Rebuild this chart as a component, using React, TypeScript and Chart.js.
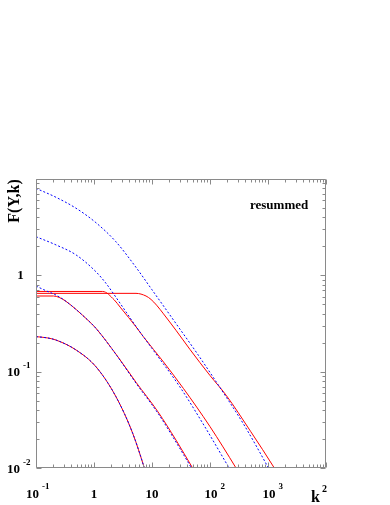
import React, { useEffect, useRef } from "react";
import { Chart, registerables } from "chart.js";

Chart.register(...registerables);

// Blue dashed curves
const b1X = [0.1, 0.221, 0.49, 1.08, 2.39, 5.3, 10, 25.9, 63.1, 148.6, 398, 1000, 1259];
const b1Y = [8.0, 6.46, 4.97, 3.52, 2.23, 1.21, 0.708, 0.316, 0.148, 0.0684, 0.0272, 0.0102, 0.0079];
const b2X = [0.1, 0.221, 0.49, 1.08, 1.61, 2.39, 5.3, 10, 30.4, 79.4, 214, 282];
const b2Y = [2.52, 2.07, 1.63, 1.09, 0.826, 0.592, 0.295, 0.174, 0.0692, 0.0275, 0.01, 0.0076];
const b3X = [0.1, 0.149, 0.221, 0.329, 0.778, 1.08, 2.51, 5.3, 12.6, 25.9, 47.9, 60.3];
const b3Y = [0.774, 0.692, 0.624, 0.537, 0.344, 0.282, 0.145, 0.0759, 0.0372, 0.0186, 0.01, 0.0079];
const b4X = [0.1, 0.158, 0.221, 0.49, 1.08, 2.39, 4.65, 7.38, 8.3];
const b4Y = [0.231, 0.224, 0.213, 0.168, 0.1125, 0.055, 0.0229, 0.01, 0.0079];

// Red solid curves
const r1X = [0.1, 5.3, 7.89, 9.62, 12.0, 15.8, 25.9, 45.2, 100, 189, 501, 1285, 1585];
const r1Y = [0.65, 0.65, 0.61, 0.562, 0.49, 0.398, 0.269, 0.17, 0.0912, 0.0571, 0.024, 0.01, 0.0081];
const r2X = [0.1, 1.41, 2.24, 2.82, 3.98, 5.3, 7.08, 15.8, 34.7, 100, 281, 355];
const r2Y = [0.68, 0.68, 0.555, 0.468, 0.363, 0.292, 0.231, 0.126, 0.0671, 0.0269, 0.01, 0.0079];
const r3X = [0.1, 0.2, 0.251, 0.329, 0.778, 1.08, 2.51, 5.3, 12.6, 25.9, 50.1, 63.1];
const r3Y = [0.61, 0.61, 0.59, 0.537, 0.344, 0.282, 0.146, 0.0776, 0.0385, 0.0195, 0.01, 0.0079];
const r4X = b4X;
const r4Y = b4Y;

// Axes
const xMin = 0.1;
const xMax = 10000;
const yMin = 0.01;
const yMax = 10;
const xTickValues = [0.1, 1, 10, 100, 1000];
const xTickBase = ["10", "1", "10", "10", "10"];
const xTickExp = ["-1", "", "", "2", "3"];
const yTickValues = [0.01, 0.1, 1];
const yTickBase = ["10", "10", "1"];
const yTickExp = ["-2", "-1", ""];
const xTitle = "k";
const xTitleExp = "2";
const yTitle = "F(Y,k)";
const annotation = "resummed";

const SERIF = "'Liberation Serif', 'Times New Roman', serif";

function pts(xs: number[], ys: number[]) {
  return xs.map((x, i) => ({ x, y: ys[i] }));
}

function blue(xs: number[], ys: number[]) {
  return {
    data: pts(xs, ys),
    borderColor: "#0000ff",
    borderWidth: 1,
    borderDash: [2, 2],
    pointRadius: 0,
    fill: false,
    cubicInterpolationMode: "monotone" as const,
  };
}
function red(xs: number[], ys: number[]) {
  return {
    data: pts(xs, ys),
    borderColor: "#ff0000",
    borderWidth: 1,
    pointRadius: 0,
    fill: false,
    cubicInterpolationMode: "monotone" as const,
  };
}

const framePlugin = {
  id: "rootFrame",
  afterDraw(chart: any) {
    const ctx = chart.ctx as CanvasRenderingContext2D;
    const a = chart.chartArea;
    const xs = chart.scales.x;
    const ys = chart.scales.y;
    const L = Math.round(a.left) + 0.5;
    const R = Math.round(a.right) - 0.5;
    const T = Math.round(a.top) + 0.5;
    const B = Math.round(a.bottom) - 0.5;
    ctx.save();
    ctx.strokeStyle = "#8a8a8a";
    ctx.lineWidth = 1;
    ctx.beginPath();
    ctx.rect(L, T, R - L, B - T);
    ctx.stroke();

    const major = 5;
    const minor = 3;
    ctx.beginPath();
    for (let d = xMin; d < xMax * 1.0001; d *= 10) {
      for (let m = 1; m <= 9; m++) {
        const v = d * m;
        if (v < xMin * 0.9999 || v > xMax * 1.0001) continue;
        const px = Math.round(xs.getPixelForValue(v)) + 0.5;
        const len = m === 1 ? major : minor;
        ctx.moveTo(px, B);
        ctx.lineTo(px, B - len);
        ctx.moveTo(px, T);
        ctx.lineTo(px, T + len);
      }
    }
    for (let d = yMin; d < yMax * 1.0001; d *= 10) {
      for (let m = 1; m <= 9; m++) {
        const v = d * m;
        if (v < yMin * 0.9999 || v > yMax * 1.0001) continue;
        const py = Math.round(ys.getPixelForValue(v)) + 0.5;
        const len = m === 1 ? major : minor;
        ctx.moveTo(L, py);
        ctx.lineTo(L + len, py);
        ctx.moveTo(R, py);
        ctx.lineTo(R - len, py);
      }
    }
    ctx.stroke();

    ctx.fillStyle = "#000";
    ctx.textBaseline = "alphabetic";
    const mainFont = `bold 13px ${SERIF}`;
    const supFont = `bold 9px ${SERIF}`;

    xTickValues.forEach((v, i) => {
      const px = xs.getPixelForValue(v);
      const base = xTickBase[i];
      const exp = xTickExp[i];
      ctx.font = mainFont;
      const w = ctx.measureText(base).width;
      let cx = px;
      if (exp) cx = exp.startsWith("-") ? px - 3.5 : px + 1;
      const left = cx - w / 2;
      ctx.textAlign = "left";
      ctx.fillText(base, left, 498);
      if (exp) {
        ctx.font = supFont;
        ctx.fillText(exp, left + w + 3, 489);
      }
    });

    yTickValues.forEach((v, i) => {
      const py = ys.getPixelForValue(v);
      const base = yTickBase[i];
      const exp = yTickExp[i];
      ctx.font = mainFont;
      const w = ctx.measureText(base).width;
      ctx.textAlign = "left";
      if (exp) {
        ctx.fillText(base, 7, py + 4.5);
        ctx.font = supFont;
        ctx.fillText(exp, 7 + w + 3, py - 3.5);
      } else {
        ctx.fillText(base, 20.5 - w / 2, py + 3.5);
      }
    });

    ctx.save();
    ctx.translate(19, 201);
    ctx.rotate(-Math.PI / 2);
    ctx.font = `bold 16px ${SERIF}`;
    ctx.textAlign = "center";
    ctx.fillText(yTitle, 0, 0);
    ctx.restore();

    ctx.font = `bold 16px ${SERIF}`;
    ctx.textAlign = "left";
    ctx.fillText(xTitle, 311, 502);
    const kw = ctx.measureText(xTitle).width;
    ctx.font = `bold 10px ${SERIF}`;
    ctx.fillText(xTitleExp, 311 + kw + 2, 492);

    ctx.font = `bold 13px ${SERIF}`;
    ctx.textAlign = "left";
    ctx.fillText(annotation, 250, 209);
    ctx.restore();
  },
};

export default function App() {
  const ref = useRef<HTMLCanvasElement | null>(null);
  useEffect(() => {
    if (!ref.current) return;
    const chart = new Chart(ref.current, {
      type: "line",
      data: {
        datasets: [
          blue(b1X, b1Y),
          blue(b2X, b2Y),
          blue(b3X, b3Y),
          blue(b4X, b4Y),
          red(r1X, r1Y),
          red(r2X, r2Y),
          red(r3X, r3Y),
          red(r4X, r4Y),
        ] as any,
      },
      options: {
        animation: false,
        responsive: false,
        devicePixelRatio: 1,
        layout: { padding: { left: 36, top: 179, right: 64, bottom: 37 } },
        plugins: { legend: { display: false }, tooltip: { enabled: false } },
        scales: {
          x: { type: "logarithmic", min: xMin, max: xMax, display: false },
          y: { type: "logarithmic", min: yMin, max: yMax, display: false },
        },
      },
      plugins: [framePlugin],
    });
    return () => chart.destroy();
  }, []);
  return (
    <div style={{ position: "absolute", left: 0, top: 0, width: 390, height: 505, background: "#fff" }}>
      <canvas ref={ref} width={390} height={505} style={{ display: "block" }} />
    </div>
  );
}
